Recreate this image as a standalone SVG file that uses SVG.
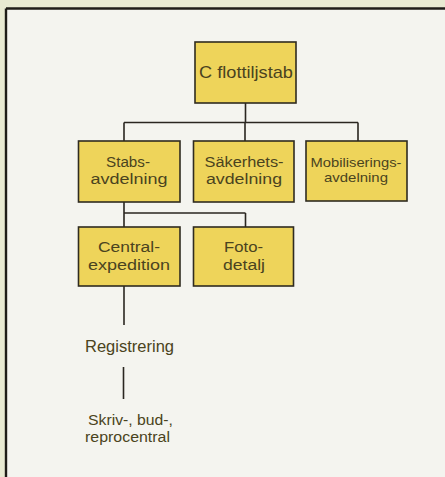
<svg xmlns="http://www.w3.org/2000/svg" width="445" height="477" viewBox="0 0 445 477">
<style>
.box{fill:#eed45a;stroke:#2f2b20;stroke-width:1.6}
.t{font-family:"Liberation Sans",Arial,sans-serif;font-size:15.5px;fill:#4a4320;text-anchor:middle}
.s{font-size:13.5px}
.c{fill:none;stroke:#2a2620;stroke-width:1.6}
</style>
<rect x="0" y="0" width="445" height="477" fill="#e8ead2"/>
<rect x="6" y="8.5" width="439" height="468.5" fill="#f4f4ef"/>
<path d="M6 8.5H445M6 8.5V477" fill="none" stroke="#1e1c18" stroke-width="2.4"/>
<g id="connectors">
<path class="c" d="M245.5 103V122.5M124 122.5H358M124 122.5V141M245 122.5V141M358 122.5V141"/>
<path class="c" d="M124 202V213M124 213H245.5M124 213V227M245.5 213V227"/>
<path class="c" d="M124 286V325"/>
<path class="c" d="M123.5 367V399"/>
</g>
<g id="n-flottiljstab">
<rect class="box" x="195" y="42" width="101" height="61"/>
<text class="t" x="246" y="78" textLength="94" lengthAdjust="spacingAndGlyphs" style="font-size:17px">C flottiljstab</text>
</g>
<g id="n-stabs">
<rect class="box" x="78.5" y="141" width="101.5" height="61"/>
<text class="t" x="128" y="166.5" textLength="44" lengthAdjust="spacingAndGlyphs">Stabs-</text>
<text class="t" x="129" y="184" textLength="77" lengthAdjust="spacingAndGlyphs">avdelning</text>
</g>
<g id="n-sakerhets">
<rect class="box" x="193.5" y="141" width="100.5" height="61"/>
<text class="t" x="244" y="166.5" textLength="79" lengthAdjust="spacingAndGlyphs">Säkerhets-</text>
<text class="t" x="244" y="184" textLength="76" lengthAdjust="spacingAndGlyphs">avdelning</text>
</g>
<g id="n-mobiliserings">
<rect class="box" x="306" y="141" width="101" height="60"/>
<text class="t s" x="356" y="166.5" textLength="91" lengthAdjust="spacingAndGlyphs">Mobiliserings-</text>
<text class="t s" x="356" y="182" textLength="64" lengthAdjust="spacingAndGlyphs">avdelning</text>
</g>
<g id="n-central">
<rect class="box" x="78.5" y="227" width="101.5" height="59"/>
<text class="t" x="129" y="252" textLength="62" lengthAdjust="spacingAndGlyphs">Central-</text>
<text class="t" x="129" y="269.5" textLength="82" lengthAdjust="spacingAndGlyphs">expedition</text>
</g>
<g id="n-foto">
<rect class="box" x="193.5" y="227" width="100" height="59"/>
<text class="t" x="243.5" y="252" textLength="39" lengthAdjust="spacingAndGlyphs">Foto-</text>
<text class="t" x="244" y="269.5" textLength="42" lengthAdjust="spacingAndGlyphs">detalj</text>
</g>
<g id="n-registrering">
<text class="t" x="129.5" y="352" textLength="89" lengthAdjust="spacingAndGlyphs" style="font-size:16.5px">Registrering</text>
</g>
<g id="n-skriv">
<text class="t" x="130.5" y="424.5" textLength="85" lengthAdjust="spacingAndGlyphs">Skriv-, bud-,</text>
<text class="t" x="127.5" y="442" textLength="85" lengthAdjust="spacingAndGlyphs">reprocentral</text>
</g>
</svg>
